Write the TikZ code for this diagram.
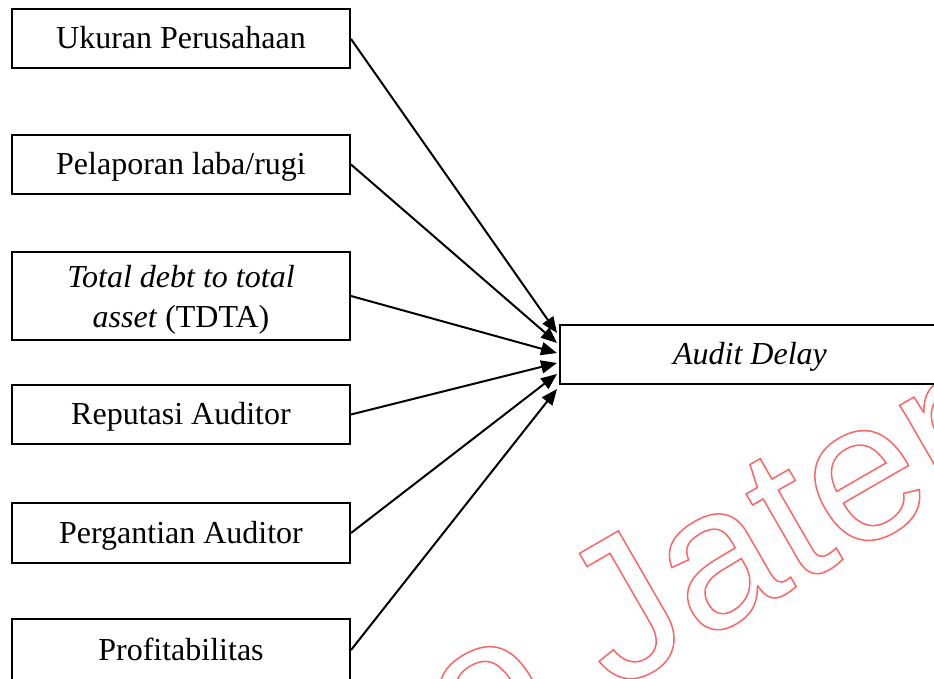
\documentclass[tikz,border=0pt]{standalone}
\usepackage{fontspec}
\setmainfont{Liberation Serif}
\newfontfamily\wmfont{Liberation Sans}
\usetikzlibrary{arrows.meta}
\definecolor{wmred}{HTML}{FF6464}
\makeatletter
\newcommand\wmoutline[1]{\pgfsys@invoke{ 1 Tr 1.5 w }#1\pgfsys@invoke{ 0 Tr }}
\makeatother
\begin{document}
\begin{tikzpicture}[x=1pt,y=-1pt,
  box/.style={draw, fill=white, line width=2pt, minimum width=338pt, minimum height=59pt,
    inner sep=0pt, font=\fontsize{32}{38}\selectfont, text height=22pt, text depth=2pt},
  lbl/.style={inner sep=0pt, anchor=base, font=\fontsize{32}{38}\selectfont},
  arr/.style={line width=2pt, -{Triangle[length=16pt,width=13pt]}},
  wm/.style={rotate=30, anchor=base west, inner sep=0pt, color=wmred,
    font=\wmfont\fontsize{200}{240}\selectfont}]
\useasboundingbox (0,0) rectangle (934,679);
\clip (0,0) rectangle (934,679);
% watermark
\node[wm] (wmark) at (469,776) {\wmoutline{o Jateng}};
% boxes
\node[box] (b1) at (181,39) {Ukuran Perusahaan};
\node[box] (b2) at (181,164.5) {Pelaporan laba/rugi};
\node[box, minimum height=88pt] (b3) at (181,296) {};
\node[lbl] (b3a) at (181,287) {\textit{Total debt to total}};
\node[lbl] (b3b) at (181,327) {\textit{asset} (TDTA)};
\node[box] (b4) at (181,414.5) {Reputasi Auditor};
\node[box, minimum height=60pt] (b5) at (181,533) {Pergantian Auditor};
\node[box, minimum height=62pt] (b6) at (181,650) {Profitabilitas};
\node[box, minimum width=380pt] (ad) at (750,354.5) {\textit{Audit Delay}};
% arrow ends
\coordinate (t1) at (557,333);
\coordinate (t2) at (557,343);
\coordinate (t3) at (557,353);
\coordinate (t4) at (557,363);
\coordinate (t5) at (557,374);
\coordinate (t6) at (557,389);
\draw[arr] (b1.east) -- (t1);
\draw[arr] (b2.east) -- (t2);
\draw[arr] (b3.east) -- (t3);
\draw[arr] (b4.east) -- (t4);
\draw[arr] (b5.east) -- (t5);
\draw[arr] (b6.east) -- (t6);
\end{tikzpicture}
\end{document}
